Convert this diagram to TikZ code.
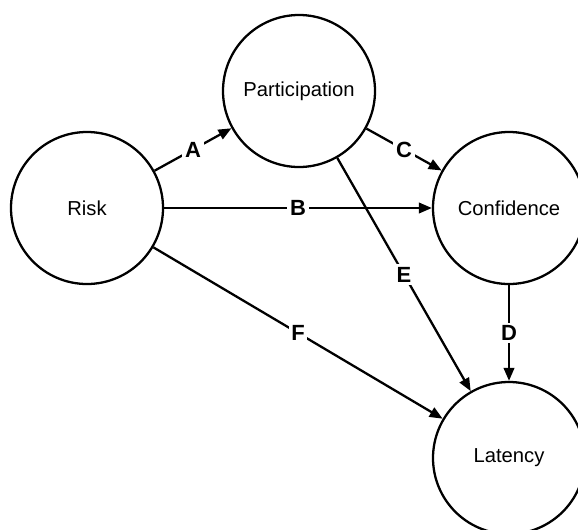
\documentclass[tikz,border=0pt]{standalone}
\usepackage{fontspec}
\setmainfont{Liberation Sans}
\usetikzlibrary{arrows.meta}

\begin{document}
\begin{tikzpicture}[
    stato/.style = {circle, draw, line width = 1.3pt, minimum size = 3.04cm, inner sep = 0pt, font = \fontsize{11.5}{14}\selectfont},
    freccia/.style = {-{Triangle[length = 2.6mm, width = 2.1mm]}, line width = 1.3pt},
    lettera/.style = {midway, fill = white, inner sep = 1.5pt, font = \fontsize{12.5}{14}\selectfont\bfseries}
]
    % Parametri
    \pgfmathsetmacro{\xmax}{11.56}
    \pgfmathsetmacro{\ymax}{10.58}
    % Bordo
    \useasboundingbox (0,0) rectangle (\xmax,\ymax);
    % Nodi
    \node[stato] (risk) at (1.74,6.42) {Risk};
    \node[stato] (participation) at (5.98,8.76) {Participation};
    \node[stato] (confidence) at (10.18,6.42) {Confidence};
    \node[stato] (latency) at (10.18,1.42) {Latency};
    % Frecce
    \draw[freccia] (risk) -- (participation) node[lettera] {A};
    \draw[freccia] (risk) -- (confidence) node[lettera] {B};
    \draw[freccia] (participation) -- (confidence) node[lettera] {C};
    \draw[freccia] (confidence) -- (latency) node[lettera] {D};
    \draw[freccia] (participation) -- (latency) node[lettera] {E};
    \draw[freccia] (risk) -- (latency) node[lettera] {F};
\end{tikzpicture}
\end{document}
